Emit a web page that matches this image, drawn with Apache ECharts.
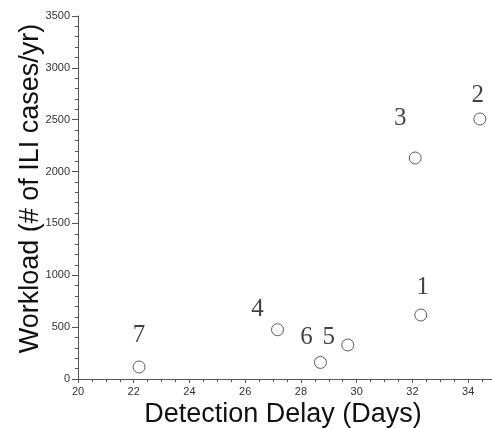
<!DOCTYPE html>
<html>
<head>
<meta charset="utf-8">
<script src="https://cdn.jsdelivr.net/npm/echarts@6/dist/echarts.min.js"></script>
<style>
  html, body { margin: 0; padding: 0; background: #fff; }
  #chart { width: 492px; height: 428px; }
</style>
</head>
<body>
<div id="chart"></div>
<script>
// data
var siteNames = ['1', '2', '3', '4', '5', '6', '7']
var detectionDelay = [32.3, 34.42, 32.1, 27.16, 29.68, 28.7, 22.19]
var workload = [617, 2507, 2131, 475, 328, 160, 116]

// where each number sits relative to its point (px)
var labelOffsets = [[2, -28], [-2, -24], [-15, -40], [-20, -20], [-19, -8], [-14, -25], [0, -32]]

var chart = echarts.init(document.getElementById('chart'))

var points = siteNames.map(function (n, i) {
  return {
    name: n,
    value: [detectionDelay[i], workload[i]],
    label: { offset: labelOffsets[i] }
  }
})

var axisColor = '#555'

chart.setOption({
  animation: false,
  grid: { left: 78, right: -4, top: 16, bottom: 49, outerBoundsMode: 'none' },
  xAxis: {
    type: 'value',
    min: 20,
    max: 35,
    interval: 2,
    name: 'Detection Delay (Days)',
    nameLocation: 'middle',
    nameGap: 22,
    nameMoveOverlap: false,
    nameTextStyle: { fontFamily: 'Liberation Sans', fontSize: 27, color: '#111', padding: [0, 8, 0, 0] },
    axisLine: { onZero: false, lineStyle: { color: axisColor } },
    axisTick: { length: 4, lineStyle: { color: axisColor } },
    minorTick: { show: true, splitNumber: 4, length: 3, lineStyle: { color: axisColor } },
    splitLine: { show: false },
    axisLabel: { fontFamily: 'Liberation Sans', fontSize: 11, color: '#333', margin: 7, showMaxLabel: false }
  },
  yAxis: {
    type: 'value',
    min: 0,
    max: 3500,
    interval: 500,
    name: 'Workload (# of ILI cases/yr)',
    nameLocation: 'middle',
    nameGap: 34,
    nameMoveOverlap: false,
    nameTextStyle: { fontFamily: 'Liberation Sans', fontSize: 27, color: '#111', padding: [0, 0, 0, 18] },
    axisLine: { show: true, lineStyle: { color: axisColor } },
    axisTick: { show: true, length: 6, lineStyle: { color: axisColor } },
    minorTick: { show: true, splitNumber: 5, length: 3, lineStyle: { color: axisColor } },
    splitLine: { show: false },
    axisLabel: {
      fontFamily: 'Liberation Sans', fontSize: 11, color: '#333', margin: 8,
      formatter: function (v) { return String(v) }
    }
  },
  series: [
    {
      type: 'scatter',
      symbol: 'circle',
      symbolSize: 12,
      itemStyle: { color: '#fff', borderColor: '#333', borderWidth: 1 },
      label: {
        show: true,
        formatter: '{b}',
        position: 'inside',
        fontFamily: 'Liberation Serif',
        fontSize: 25,
        color: '#111'
      },
      data: points
    }
  ]
})
</script>
</body>
</html>
